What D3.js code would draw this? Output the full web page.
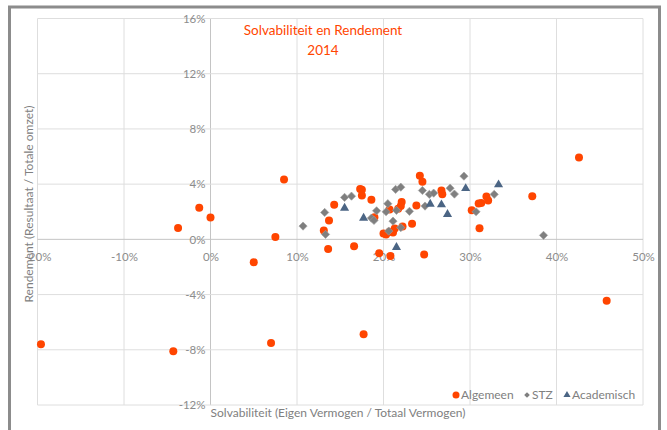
<!DOCTYPE html>
<html>
<head>
<meta charset="utf-8">
<script src="https://cdn.jsdelivr.net/npm/d3@7"></script>
<style>
  body { margin: 0; background: #fff; }
  text { font-family: Lato, "Open Sans", sans-serif; }
</style>
</head>
<body>
<div id="chart"></div>
<script>
// Solvabiliteit (x, %) en Rendement (y, %) per ziekenhuis
const algemeenX = [-19.6, -4.3, 7.0, 17.7, 45.8, -3.75, -1.3, 0.0, 5.0, 7.5, 8.5, 13.1, 13.6, 13.7, 14.3, 16.6,
  17.3, 17.5, 17.5, 18.6, 18.95, 19.5, 20.8, 20.0, 20.3, 20.7, 21.1, 21.3, 20.7, 21.7, 22.0, 22.1, 22.2, 23.3,
  23.8, 24.2, 24.5, 24.7, 26.7, 26.8, 30.2, 31.0, 31.3, 31.9, 32.1, 31.1, 37.2, 42.6];
const algemeenY = [-7.6, -8.1, -7.5, -6.87, -4.45, 0.82, 2.29, 1.59, -1.66, 0.17, 4.34, 0.65, -0.7, 1.37, 2.51, -0.5,
  3.64, 3.6, 3.18, 2.87, 1.61, -1.0, -1.2, 0.43, 0.36, 0.55, 0.5, 0.79, 2.17, 2.22, 2.41, 2.7, 0.94, 1.13,
  2.45, 4.61, 4.17, -1.09, 3.54, 3.26, 2.1, 2.6, 2.63, 3.11, 2.82, 0.8, 3.13, 5.93];

const stzX = [10.7, 13.2, 13.3, 15.5, 16.3, 18.6, 18.9, 19.2, 20.3, 20.5, 20.6, 21.1, 21.5, 21.4, 22.0, 22.0,
  23.0, 24.5, 24.8, 25.3, 25.8, 27.7, 28.2, 29.3, 30.7, 32.8, 38.5];
const stzY = [0.96, 1.95, 0.36, 3.04, 3.13, 1.54, 1.37, 2.07, 2.0, 2.58, 0.6, 1.32, 2.1, 3.62, 3.78, 0.85,
  2.03, 3.54, 2.41, 3.26, 3.35, 3.71, 3.28, 4.58, 2.0, 3.26, 0.29];

const academischX = [15.5, 17.7, 21.5, 25.4, 26.7, 27.4, 29.5, 33.3];
const academischY = [2.27, 1.54, -0.58, 2.56, 2.51, 1.81, 3.69, 3.96];

const xTicks = [-20, -10, 0, 10, 20, 30, 40, 50];
const yTicks = [-12, -8, -4, 0, 4, 8, 12, 16];

const width = 667, height = 430;
const orange = "#ff4500", grey = "#7f7f7f", blue = "#4b6584";

const svg = d3.select("#chart").append("svg")
  .attr("width", width)
  .attr("height", height);

// chart frame
svg.append("rect")
  .attr("x", 9.5).attr("y", 7)
  .attr("width", 650).attr("height", 450)
  .attr("fill", "#fff")
  .attr("stroke", "#8c8c8c")
  .attr("stroke-width", 3);

const x = d3.scaleLinear().domain([-20, 50]).range([37.5, 643]);
const y = d3.scaleLinear().domain([-12, 16]).range([405, 18.5]);

// gridlines
svg.append("g").selectAll("line")
  .data(xTicks).enter().append("line")
  .attr("x1", d => x(d)).attr("x2", d => x(d))
  .attr("y1", y(16)).attr("y2", y(-12))
  .attr("stroke", d => d === 0 ? "#c4c4c4" : "#dedede");
svg.append("g").selectAll("line")
  .data(yTicks).enter().append("line")
  .attr("x1", x(-20)).attr("x2", x(50))
  .attr("y1", d => y(d)).attr("y2", d => y(d))
  .attr("stroke", d => d === 0 ? "#c4c4c4" : "#dedede");

// axes through zero
const xAxis = svg.append("g")
  .attr("transform", `translate(0,${y(0)})`)
  .call(d3.axisBottom(x).tickValues(xTicks).tickFormat(d => d + "%").tickSize(0).tickPadding(13));
const yAxis = svg.append("g")
  .attr("transform", `translate(${x(0)},0)`)
  .call(d3.axisLeft(y).tickValues(yTicks).tickFormat(d => d + "%").tickSize(0).tickPadding(5));
[xAxis, yAxis].forEach(a => {
  a.select(".domain").remove();
  a.selectAll("text").attr("fill", "#8c8c8c").style("font-size", "11.5px")
    .style("font-family", "Lato, 'Open Sans', sans-serif");
});

// axis titles
svg.append("text")
  .attr("x", 338).attr("y", 417)
  .attr("text-anchor", "middle")
  .attr("fill", "#808080")
  .style("font-size", "12px")
  .text("Solvabiliteit  (Eigen Vermogen / Totaal Vermogen)");
svg.append("text")
  .attr("transform", "translate(29,204) rotate(-90)")
  .attr("text-anchor", "middle")
  .attr("dy", "0.35em")
  .attr("fill", "#808080")
  .style("font-size", "12px")
  .text("Rendement  (Resultaat / Totale omzet)");

// title
svg.append("text")
  .attr("x", 323).attr("y", 35)
  .attr("text-anchor", "middle")
  .attr("fill", orange)
  .style("font-size", "13.5px")
  .text("Solvabiliteit en Rendement");
svg.append("text")
  .attr("x", 323).attr("y", 55)
  .attr("text-anchor", "middle")
  .attr("fill", orange)
  .style("font-size", "13.5px")
  .text("2014");

// points
const algemeen = algemeenX.map((v, i) => [v, algemeenY[i]]);
const stz = stzX.map((v, i) => [v, stzY[i]]);
const academisch = academischX.map((v, i) => [v, academischY[i]]);

svg.append("g").selectAll("circle")
  .data(algemeen).enter().append("circle")
  .attr("cx", d => x(d[0])).attr("cy", d => y(d[1]))
  .attr("r", 4)
  .attr("fill", orange);

const diamond = d3.symbol().type(d3.symbolSquare).size(34);
svg.append("g").selectAll("path")
  .data(stz).enter().append("path")
  .attr("d", diamond)
  .attr("transform", d => `translate(${x(d[0])},${y(d[1])}) rotate(45)`)
  .attr("fill", grey)
  .attr("stroke", "#a0a0a0")
  .attr("stroke-width", 0.6);

const triangle = d3.symbol().type(d3.symbolTriangle).size(36);
svg.append("g").selectAll("path")
  .data(academisch).enter().append("path")
  .attr("d", triangle)
  .attr("transform", d => `translate(${x(d[0])},${y(d[1])})`)
  .attr("fill", blue);

// legend
const legendItems = [
  { name: "Algemeen", color: orange, x: 456, shape: "circle" },
  { name: "STZ", color: grey, x: 527, shape: "diamond" },
  { name: "Academisch", color: blue, x: 567, shape: "triangle" }
];
const ly = 395;
const legend = svg.append("g");
legendItems.forEach(it => {
  if (it.shape === "circle") {
    legend.append("circle").attr("cx", it.x).attr("cy", ly).attr("r", 3.5).attr("fill", it.color);
  } else if (it.shape === "diamond") {
    legend.append("path").attr("d", d3.symbol().type(d3.symbolSquare).size(16))
      .attr("transform", `translate(${it.x},${ly}) rotate(45)`).attr("fill", it.color);
  } else {
    legend.append("path").attr("d", d3.symbol().type(d3.symbolTriangle).size(22))
      .attr("transform", `translate(${it.x},${ly})`).attr("fill", it.color);
  }
  legend.append("text")
    .attr("x", it.x + 5).attr("y", ly)
    .attr("dy", "0.35em")
    .attr("fill", "#808080")
    .style("font-size", "12px")
    .text(it.name);
});
</script>
</body>
</html>
